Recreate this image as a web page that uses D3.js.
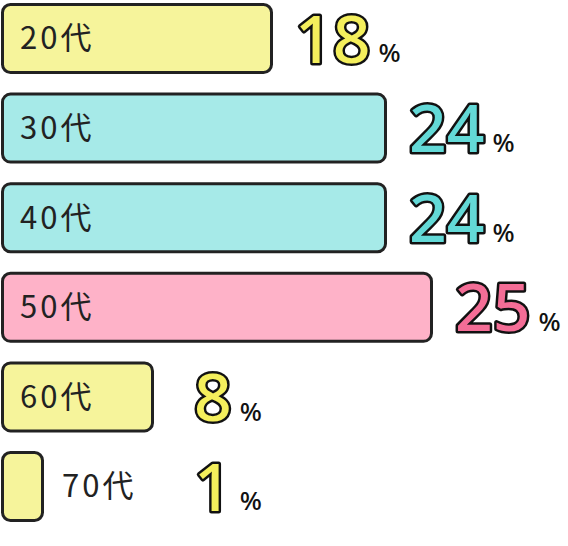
<!DOCTYPE html>
<html><head><meta charset="utf-8">
<script src="https://cdn.jsdelivr.net/npm/d3@7"></script>
<style>body{margin:0;background:#fff}</style>
</head><body>
<svg id="chart" width="568" height="546"></svg>
<script>
const ages = ["20代", "30代", "40代", "50代", "60代", "70代"];
const shares = [18, 24, 24, 25, 8, 1];
const groups = ["y", "c", "c", "p", "y", "y"];

const barFill = {y: "#f6f49b", c: "#a6eae8", p: "#feb2c8"};
const numFill = {y: "#f4ef5c", c: "#63d9d7", p: "#f46d96"};

const svg = d3.select("#chart");
// the bar lengths in the picture are not proportional, so map through a piecewise scale
const x = d3.scaleLinear().domain([0, 1, 8, 18, 24, 25]).range([0, 40, 150, 269, 383, 429]);
const y = d3.scaleBand().domain(ages).range([4, 521]).paddingInner(0.23).paddingOuter(0);

const row = svg.selectAll("g.row").data(ages).join("g").attr("class", "row")
    .attr("transform", d => `translate(0,${y(d)})`);

row.append("rect")
    .attr("x", 2.5).attr("y", 0.5)
    .attr("width", (d, i) => x(shares[i]))
    .attr("height", y.bandwidth() - 1)
    .attr("rx", 8)
    .attr("fill", (d, i) => barFill[groups[i]])
    .attr("stroke", "#222").attr("stroke-width", 3);

row.append("text")
    .attr("x", (d, i) => x(shares[i]) < 100 ? 62 : 20)
    .attr("y", y.bandwidth() / 2 + 11)
    .attr("font-family", "Noto Sans CJK JP, Noto Sans")
    .attr("font-size", 31).attr("fill", "#222")
    .attr("letter-spacing", 3)
    .text(d => d);

const num = row.append("text")
    .attr("x", (d, i) => Math.max(x(shares[i]) + 26, 194))
    .attr("y", y.bandwidth() / 2 + 24);

num.append("tspan")
    .attr("font-family", "Noto Sans").attr("font-weight", "500")
    .attr("font-size", 66)
    .attr("fill", (d, i) => numFill[groups[i]])
    .attr("stroke", "#111").attr("stroke-width", 5)
    .attr("stroke-linejoin", "round").attr("paint-order", "stroke")
    .text((d, i) => shares[i]);

num.append("tspan")
    .attr("dx", 8)
    .attr("font-family", "Noto Sans").attr("font-weight", "500")
    .attr("font-size", 26).attr("fill", "#111")
    .text("%");
</script>
</body></html>
